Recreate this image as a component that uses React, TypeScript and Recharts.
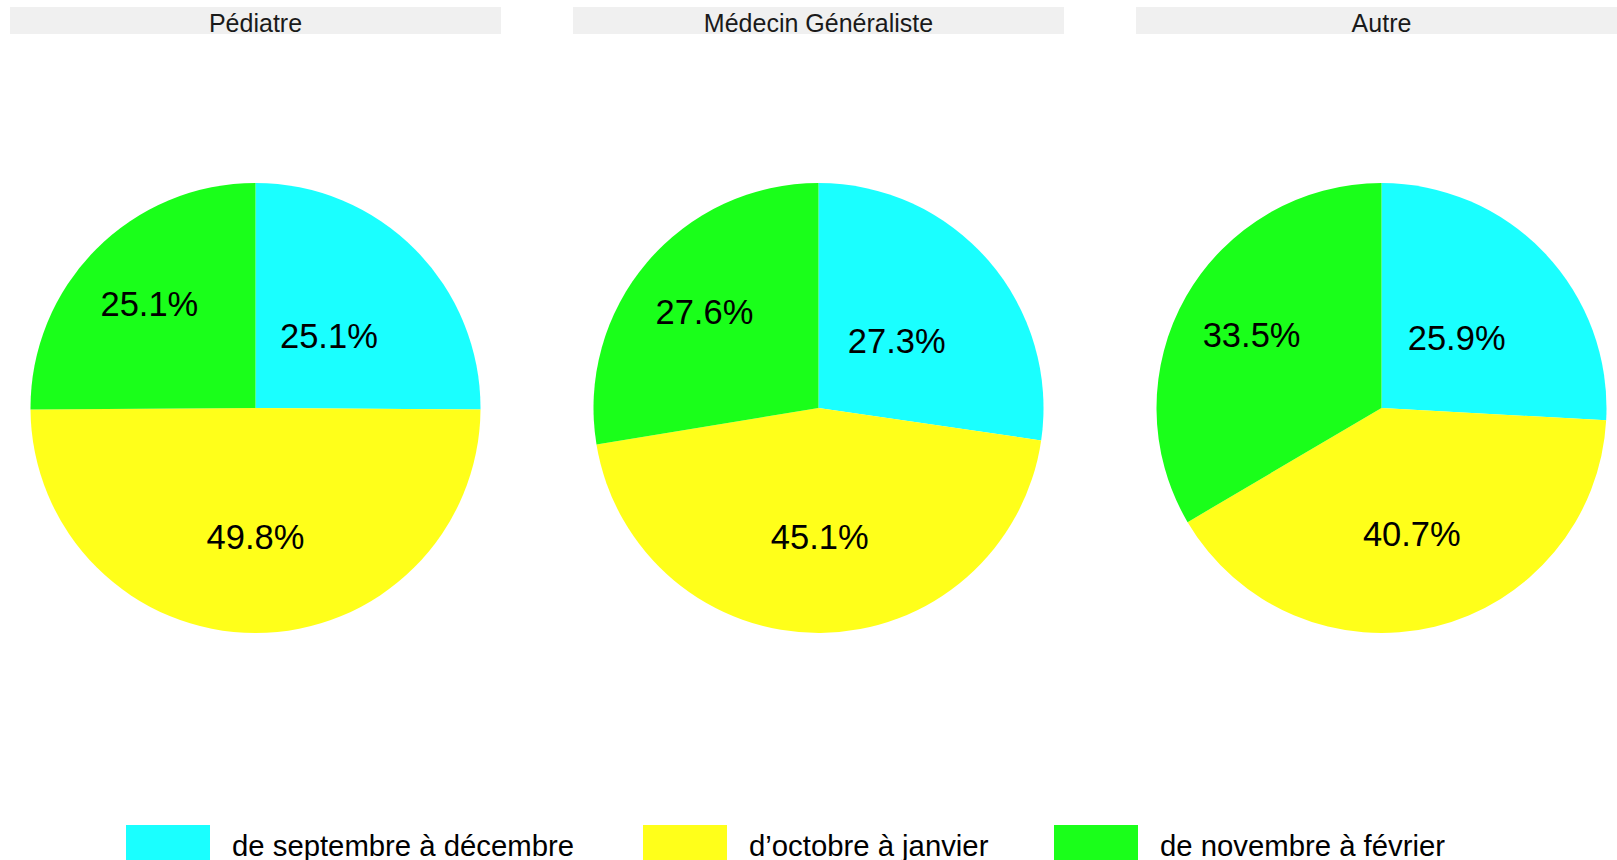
import React from "react";
import { PieChart, Pie, Cell } from "recharts";

const categories = ["Pédiatre", "Médecin Généraliste", "Autre"];
const seriesNames = ["de septembre à décembre", "d’octobre à janvier", "de novembre à février"];
const sepDec = [25.1, 27.3, 25.9];
const octJan = [49.8, 45.1, 40.7];
const novFev = [25.1, 27.6, 33.5];

const COLORS = ["#1AFFFF", "#FFFF1A", "#1AFF1A"];
const LABEL_R = [0.46, 0.57, 0.665];
const FONT = "'Liberation Sans', Arial, Helvetica, sans-serif";

const W = 1617;
const H = 860;
const PANEL_X0 = 10;
const PANEL_W = 491;
const PANEL_STEP = 563;
const CY = 408;
const R = 225;

const seriesValues = [sepDec, octJan, novFev];

const RADIAN = Math.PI / 180;

const renderLabel = (props: any) => {
  const { cx, cy, midAngle, outerRadius, index, value } = props;
  const r = outerRadius * LABEL_R[index];
  const x = cx + r * Math.cos(-midAngle * RADIAN);
  const y = cy + r * Math.sin(-midAngle * RADIAN) + 1;
  return (
    <text
      x={x}
      y={y}
      fill="#000"
      textAnchor="middle"
      dominantBaseline="central"
      fontFamily={FONT}
      fontSize={34.5}
    >
      {`${Number(value).toFixed(1)}%`}
    </text>
  );
};

export default function App() {
  const pies = categories.map((cat, i) =>
    seriesNames.map((name, s) => ({ name, value: seriesValues[s][i] }))
  );
  const legendKeyX = [126, 643, 1054];
  return (
    <div style={{ position: "absolute", left: 0, top: 0, width: W, height: H, overflow: "hidden", background: "#fff" }}>
      <PieChart width={W} height={H} margin={{ top: 0, right: 0, bottom: 0, left: 0 }}>
        {pies.map((data, i) => (
          <Pie
            key={categories[i]}
            data={data}
            dataKey="value"
            nameKey="name"
            cx={PANEL_X0 + PANEL_W / 2 + i * PANEL_STEP}
            cy={CY}
            outerRadius={R}
            innerRadius={0}
            startAngle={90}
            endAngle={-270}
            stroke="none"
            label={renderLabel}
            labelLine={false}
            isAnimationActive={false}
          >
            {data.map((d, s) => (
              <Cell key={d.name} fill={COLORS[s]} stroke="none" />
            ))}
          </Pie>
        ))}
      </PieChart>
      <svg width={W} height={H} style={{ position: "absolute", left: 0, top: 0, pointerEvents: "none" }}>
        {categories.map((cat, i) => {
          const x = PANEL_X0 + i * PANEL_STEP;
          return (
            <g key={cat}>
              <rect x={x} y={7} width={PANEL_W} height={27} fill="#F0F0F0" />
              <text x={x + PANEL_W / 2} y={31.5} textAnchor="middle" fontFamily={FONT} fontSize={25} fill="#1A1A1A">
                {cat}
              </text>
            </g>
          );
        })}
        {seriesNames.map((name, s) => (
          <g key={name}>
            <rect x={legendKeyX[s]} y={825} width={84} height={42} fill={COLORS[s]} />
            <text x={legendKeyX[s] + 106} y={856} fontFamily={FONT} fontSize={29.3} fill="#000">
              {name}
            </text>
          </g>
        ))}
      </svg>
    </div>
  );
}
